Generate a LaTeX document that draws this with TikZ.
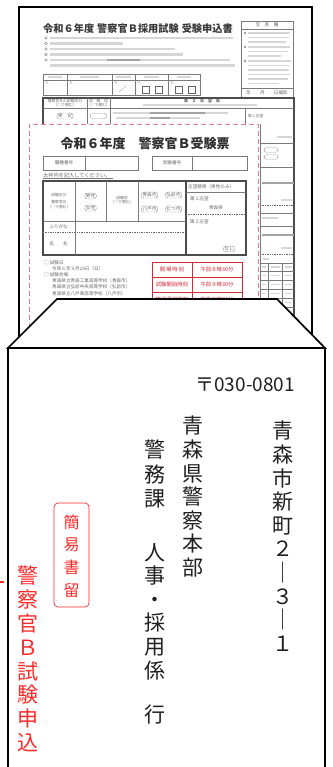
\documentclass[tikz,border=0pt]{standalone}
\usepackage{fontspec}
\setmainfont{Noto Sans CJK JP}
\definecolor{pinkd}{HTML}{E27A8C}
\definecolor{redt}{HTML}{D8283A}
\definecolor{stampred}{HTML}{FF2A2A}
\definecolor{txtgray}{HTML}{6A6A6A}
\definecolor{linegray}{HTML}{7A7A7A}
\tikzset{
 tinytxt/.style={font=\fontsize{4.6}{5.6}\selectfont, text=txtgray, inner sep=0},
 microtxt/.style={font=\fontsize{3.8}{4.6}\selectfont, text=txtgray, inner sep=0, align=center},
 smalltxt/.style={font=\fontsize{5.2}{6.2}\selectfont, text=txtgray, inner sep=0},
 redtxt/.style={font=\fontsize{5.4}{6.4}\selectfont, text=redt, inner sep=0},
 txtbar/.style={fill=gray!32, draw=none},
 boldbar/.style={fill=gray!72, draw=none},
 gcell/.style={draw=linegray, line width=0.45},
 tcell/.style={draw=black!70, line width=1.1},
 dotline/.style={draw=black!60, line width=0.8, dash pattern=on 1.4pt off 1pt},
 oval/.style={draw=txtgray, dash pattern=on 0.9pt off 0.7pt, line width=0.4, rounded corners=2.5pt, inner xsep=1.2pt, inner ysep=0.9pt, font=\fontsize{4.6}{5.6}\selectfont, text=txtgray},
 envline/.style={draw=black, line width=1.7, fill=white, line join=miter},
 vtext/.style={font=\fontsize{21}{23.6}\selectfont, align=center, inner sep=0, anchor=north, text=black!88},
}
\begin{document}
\begin{tikzpicture}[x=1pt,y=-1pt]
\useasboundingbox (0,0) rectangle (332,767);

% ---------- back document: application form ----------
\draw[line width=1.8] (19,7) rectangle (312,380);
\node[anchor=west, inner sep=0, font=\bfseries\fontsize{10.2}{12}\selectfont, text=black!78] (apptitle) at (43,29) {令和６年度\hspace{3pt}警察官Ｂ採用試験\hspace{3pt}受験申込書};
\foreach \y/\b in {38/233, 43.5/123, 49/175, 54.5/183, 60/230} {
  \draw[linegray, line width=0.35] (46,\y) circle (1.3);
  \fill[txtbar] (50,\y-1.1) rectangle (\b,\y+1.1);
}
\fill[boldbar] (107,58.9) rectangle (140,61.1);
\fill[txtbar] (50,64.4) rectangle (235,66.6);

% photo box
\draw[gcell] (241,21) rectangle (293,97);
\draw[gcell] (241,29) -- (293,29);
\draw[gcell] (241,88) -- (293,88);
\node[tinytxt] (photohead) at (267,25) {写　真　欄};
\node[tinytxt] (photodate) at (267,92.5) {年　　月　　日撮影};
\foreach \y/\b in {33/290, 37.5/289, 42/286, 47/290, 51.5/288, 56/281, 61/291, 65.5/290, 70/289, 74.5/290, 79/288, 83.5/279}
  \fill[txtbar] (248,\y-0.9) rectangle (\b,\y+0.9);
\foreach \y in {33,47,61} \draw[linegray, line width=0.3] (245,\y) circle (1.1);

% first table
\draw[gcell] (43,74) rectangle (200,95);
\draw[gcell] (43,80) -- (200,80);
\foreach \x in {67,112,135,168} \draw[gcell] (\x,74) -- (\x,95);
\foreach \a/\b in {48/62, 80/99, 116/131, 144/159, 177/191} \fill[txtbar] (\a,76) rectangle (\b,78);
\foreach \x in {45,69,114,137,170} \node[microtxt, anchor=north west] at (\x,81) {※};
\foreach \x in {142,155,175,188} \draw[black!60, line width=0.5] (\x,86) rectangle (\x+7,93);
\draw[gray!55, line width=0.5] (119,92) -- (126,86);

% second table
\draw[tcell] (43,98) rectangle (294,380);
\draw[gcell] (43,108) -- (294,108);
\draw[gcell] (87,98) -- (87,130);
\draw[gcell] (110,98) -- (110,130);
\draw[gcell] (245,108) -- (245,130);
\node[microtxt] (h1) at (65,103) {警察官Ｂの試験区分\\（○で囲む）};
\node[microtxt] (h2) at (98.5,103) {試　験　地\\（○で囲む）};
\node[microtxt, font=\bfseries\fontsize{4}{4.6}\selectfont] (h3) at (202,100.8) {第　２　志　望　県};
\fill[txtbar] (143,104.4) rectangle (257,106.2);
\node[oval] (sexoval) at (65,116) {男　女};
\node[oval, minimum width=17pt, minimum height=5pt] (cityoval) at (98.5,116) {};
\fill[txtbar] (113,112.3) rectangle (228,114.1);
\fill[boldbar] (150,112.3) rectangle (205,114.1);
\fill[txtbar] (116,117.3) rectangle (200,119.1);
\fill[boldbar] (150,117.3) rectangle (170,119.1);
\node[microtxt, anchor=west] (wish1) at (248,116) {第１志望};

% right strip of the back table
\draw[gcell] (260,124) -- (260,336);
\fill[txtbar] (277,136) rectangle (292,138);
\draw[gcell] (260,143) -- (294,143);
\node[oval, minimum width=14pt, minimum height=4.5pt] (ok1) at (271,150) {};
\node[oval, minimum width=14pt, minimum height=4.5pt] (ok2) at (271,157) {};
\draw[gcell] (260,167) -- (294,167);
\fill[boldbar] (262,182) rectangle (294,184);
\fill[txtbar] (281,199) rectangle (292,201);
\draw[dotline, line width=0.5] (260,205) -- (294,205);
\draw[gcell] (260,213) -- (294,213);
\fill[txtbar] (262,217) rectangle (278,219);
\draw[gcell] (260,226) -- (294,226);
\fill[boldbar] (262,234) rectangle (294,236);
\fill[txtbar] (281,247) rectangle (292,249);
\draw[dotline, line width=0.5] (260,254) -- (294,254);
\fill[txtbar] (263,258) rectangle (269,259.5);
\foreach \y in {263,271,280,289,298,307,316,325,334} \draw[gcell] (260,\y) -- (294,\y);
\foreach \x in {268,282} \draw[gcell] (\x,263) -- (\x,336);
\foreach \y in {267,275.5,284.5,293.5,302.5,311.5,320.5,329.5} {
  \fill[txtbar] (262,\y-0.9) rectangle (266,\y+0.9);
  \fill[txtbar] (271,\y-0.9) rectangle (280,\y+0.9);
  \fill[txtbar] (285,\y-0.9) rectangle (292,\y+0.9);
}

% ---------- front document: examination ticket ----------
\path[fill=white] (29,124) rectangle (258,400);
\draw[pinkd, line width=0.9, dash pattern=on 5pt off 3pt] (29,400) -- (29,124) -- (258,124) -- (258,400);
\node[inner sep=0, font=\bfseries\fontsize{13}{15}\selectfont, text=black!82] (tickettitle) at (145,144) {令和６年度　警察官Ｂ受験票};
\draw[gcell, line width=0.6] (43,156) rectangle (138,170);
\draw[gcell, line width=0.6] (85,156) -- (85,170);
\node[tinytxt] (jobno) at (64,163) {職種番号};
\draw[gcell, line width=0.6] (152,156) rectangle (247,170);
\draw[gcell, line width=0.6] (192,156) -- (192,170);
\node[tinytxt] (examno) at (172,163) {受験番号};
\node[smalltxt, anchor=west] (fillnote) at (43,175.5) {太枠内を記入してください。};
\draw[linegray, line width=0.3] (43,178.5) -- (113,178.5);

% main table
\draw[tcell] (43,181) rectangle (246,255);
\draw[tcell] (186,181) -- (186,255);
\draw[gcell] (43,221) -- (186,221);
\draw[dotline] (43,232) -- (186,232);
\draw[gcell] (75,181) -- (75,255);
\draw[gcell] (106,181) -- (106,221);
\draw[gcell] (138,181) -- (138,221);
\draw[gcell] (186,192) -- (246,192);
\draw[dotline, line width=0.6] (186,214) -- (246,214);
\node[microtxt] (kubun) at (59,201) {試験区分\\[2pt]警察官Ｂ\\（○で囲む）};
\node[oval] (male) at (90.5,196) {男性};
\node[oval] (female) at (90.5,208) {女性};
\node[microtxt] (shikenchi) at (122,200) {試験地\\（○で囲む）};
\node[oval] (c1) at (149.5,195) {青森市};
\node[oval] (c2) at (173.5,195) {弘前市};
\node[oval] (c3) at (149.5,209) {八戸市};
\node[oval] (c4) at (173.5,209) {むつ市};
\node[tinytxt, anchor=west] (wishhead) at (188,186.5) {志望都県（男性のみ）};
\node[tinytxt, anchor=west] (first) at (190,198.5) {第１志望};
\node[tinytxt] (aomori) at (216,207.5) {青森県};
\node[tinytxt, anchor=west] (second) at (190,221.5) {第２志望};
\node[oval] (nashi) at (229,249) {なし};
\node[tinytxt] (furigana) at (58.5,226.5) {ふりがな};
\node[tinytxt] (shimei) at (58.5,243.5) {氏　　名};

% notes below the table
\node[tinytxt, anchor=west] (n1) at (44,263) {□ 試験日};
\node[tinytxt, anchor=west] (n2) at (52,269) {令和６年９月29日（日）};
\node[tinytxt, anchor=west] (n3) at (44,275) {□ 試験会場};
\node[tinytxt, anchor=west] (n4) at (52,281) {青森県立青森工業高等学校（青森市）};
\node[tinytxt, anchor=west] (n5) at (52,287) {青森県立弘前中央高等学校（弘前市）};
\node[tinytxt, anchor=west] (n6) at (52,293.5) {青森県立八戸東高等学校（八戸市）};

% red schedule table
\draw[redt, line width=0.7] (152,262) rectangle (242,310);
\draw[redt, line width=0.6] (152,277) -- (242,277);
\draw[redt, line width=0.6] (152,292) -- (242,292);
\draw[redt, line width=0.6] (192,262) -- (192,310);
\node[redtxt] (r1a) at (172,269.5) {開\,場\,時\,刻};
\node[redtxt] (r1b) at (217,269.5) {午前８時30分};
\node[redtxt] (r2a) at (172,284.5) {試験開始時刻};
\node[redtxt] (r2b) at (217,284.5) {午前９時30分};
\node[redtxt] (r3a) at (172,299.5) {終了予定時刻};
\node[redtxt] (r3b) at (217,299.5) {午後３時30分};

% ---------- envelope ----------
\path[envline] (8,775) -- (8,348) -- (325,348) -- (325,775);
\path[envline] (8,348) -- (57,299) -- (277,299) -- (325,348) -- cycle;
\draw[stampred, line width=1.5] (0,582) -- (4,582);

\node[inner sep=0, anchor=base east, font=\fontsize{19}{22}\selectfont, text=black!88] (zip) at (295,391) {〒030-0801};
\node[vtext] (addr) at (283,421) {青\\森\\市\\新\\町\\２\\｜\\３\\｜\\１};
\node[vtext] (office) at (193,416) {青\\森\\県\\警\\察\\本\\部};
\node[vtext, font=\fontsize{21}{24.5}\selectfont] (dept) at (155,440) {警\\務\\課};
\node[vtext] (section) at (155,543) {人\\事\\・\\採\\用\\係};
\node[vtext] (yuki) at (155,705) {行};

\node[draw=stampred, rounded corners=4pt, line width=0.7, minimum width=35pt, minimum height=104pt, inner sep=0] (stamp) at (71.5,555) {};
\node[inner sep=0, align=center, font=\fontsize{16}{22.6}\selectfont, text=stampred] (stamptext) at (71.5,556) {簡\\易\\書\\留};
\node[vtext, text=stampred, font=\fontsize{21}{23.8}\selectfont] (redlabel) at (28,566) {警\\察\\官\\Ｂ\\試\\験\\申\\込};
\end{tikzpicture}
\end{document}
